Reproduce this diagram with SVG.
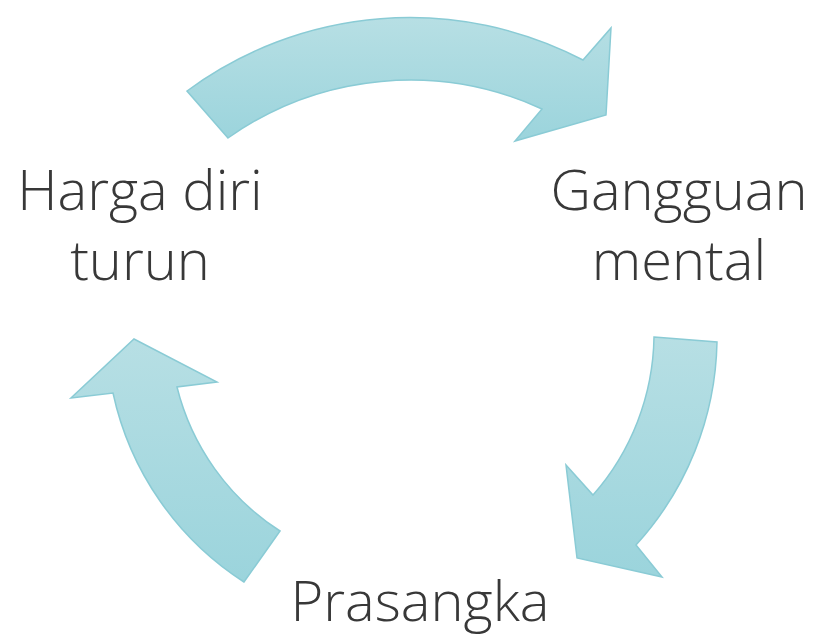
<svg xmlns="http://www.w3.org/2000/svg" width="813" height="637" viewBox="0 0 813 637">
<defs>
<linearGradient id="g" x1="0" y1="0" x2="0" y2="1">
<stop offset="0" stop-color="#b7dfe4"/>
<stop offset="1" stop-color="#9bd4dc"/>
</linearGradient>
<style>
.arr{fill:url(#g);stroke:#8acbd5;stroke-width:1.5;stroke-linejoin:miter}
.lbl{font-family:"Open Sans","Liberation Sans",sans-serif;font-weight:300;font-size:56px;fill:#383838;text-anchor:middle}
</style>
</defs>
<g id="connectors">
<path id="arrow-top" class="arr" d="M187,91 A375,375 0 0 1 583,60 L611,28 L606,115 L515,141 L542,109 A315,315 0 0 0 228,138 Z"/>
<path id="arrow-right" class="arr" d="M654,337 L717,342 A310,310 0 0 1 636,545 L662,577 L577,558 L566,465 L593,495 A245,245 0 0 0 654,337 Z"/>
<path id="arrow-left" class="arr" d="M280,531 L244,582 A300,300 0 0 1 113,393 L71,398 L134,339 L217,382 L177,387 A240,240 0 0 0 280,531 Z"/>
</g>
<g id="node-harga">
<text class="lbl" x="140" y="210">Harga diri</text>
<text class="lbl" x="140" y="280">turun</text>
</g>
<g id="node-gangguan">
<text class="lbl" x="679" y="210">Gangguan</text>
<text class="lbl" x="679" y="280">mental</text>
</g>
<g id="node-prasangka">
<text class="lbl" x="420" y="621">Prasangka</text>
</g>
</svg>
